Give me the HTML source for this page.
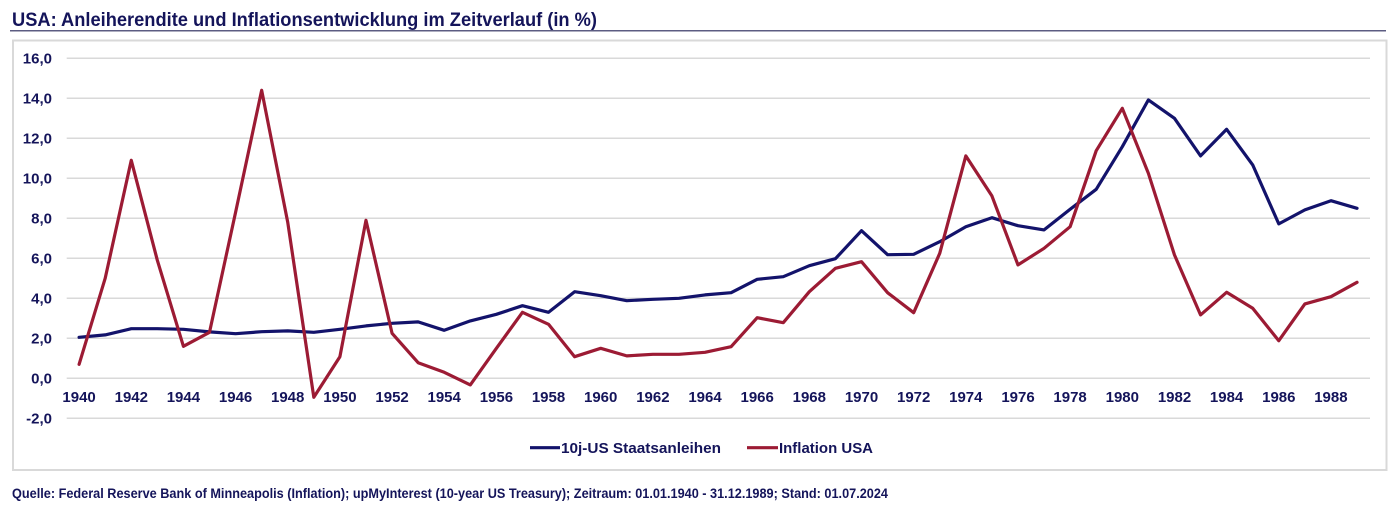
<!DOCTYPE html>
<html><head><meta charset="utf-8"><style>
html,body{margin:0;padding:0;background:#fff;}
svg{display:block;}
text{font-family:"Liberation Sans",Arial,sans-serif;font-weight:bold;fill:#14145a;}
</style></head><body>
<svg width="1400" height="517" viewBox="0 0 1400 517" xmlns="http://www.w3.org/2000/svg">
<text x="12" y="26" font-size="19" textLength="585" lengthAdjust="spacingAndGlyphs">USA: Anleiherendite und Inflationsentwicklung im Zeitverlauf (in %)</text>
<line x1="10" y1="30.7" x2="1386" y2="30.7" stroke="#5c5c82" stroke-width="1.5"/>
<rect x="13" y="40.5" width="1373.5" height="429.5" fill="none" stroke="#d9d9d9" stroke-width="2"/>
<g stroke="#d9d9d9" stroke-width="1.5">
<line x1="66.7" x2="1370" y1="58.3" y2="58.3"/>
<line x1="66.7" x2="1370" y1="98.3" y2="98.3"/>
<line x1="66.7" x2="1370" y1="138.3" y2="138.3"/>
<line x1="66.7" x2="1370" y1="178.3" y2="178.3"/>
<line x1="66.7" x2="1370" y1="218.3" y2="218.3"/>
<line x1="66.7" x2="1370" y1="258.3" y2="258.3"/>
<line x1="66.7" x2="1370" y1="298.3" y2="298.3"/>
<line x1="66.7" x2="1370" y1="338.3" y2="338.3"/>
<line x1="66.7" x2="1370" y1="378.3" y2="378.3"/>
<line x1="66.7" x2="1370" y1="418.3" y2="418.3"/>
</g>
<g font-size="15" text-anchor="end">
<text x="52" y="63.5">16,0</text>
<text x="52" y="103.5">14,0</text>
<text x="52" y="143.5">12,0</text>
<text x="52" y="183.5">10,0</text>
<text x="52" y="223.5">8,0</text>
<text x="52" y="263.5">6,0</text>
<text x="52" y="303.5">4,0</text>
<text x="52" y="343.5">2,0</text>
<text x="52" y="383.5">0,0</text>
<text x="52" y="423.5">-2,0</text>
</g>
<g font-size="15" text-anchor="middle">
<text x="79.1" y="402">1940</text>
<text x="131.3" y="402">1942</text>
<text x="183.4" y="402">1944</text>
<text x="235.6" y="402">1946</text>
<text x="287.7" y="402">1948</text>
<text x="339.9" y="402">1950</text>
<text x="392.1" y="402">1952</text>
<text x="444.2" y="402">1954</text>
<text x="496.4" y="402">1956</text>
<text x="548.5" y="402">1958</text>
<text x="600.7" y="402">1960</text>
<text x="652.9" y="402">1962</text>
<text x="705.0" y="402">1964</text>
<text x="757.2" y="402">1966</text>
<text x="809.3" y="402">1968</text>
<text x="861.5" y="402">1970</text>
<text x="913.7" y="402">1972</text>
<text x="965.8" y="402">1974</text>
<text x="1018.0" y="402">1976</text>
<text x="1070.1" y="402">1978</text>
<text x="1122.3" y="402">1980</text>
<text x="1174.5" y="402">1982</text>
<text x="1226.6" y="402">1984</text>
<text x="1278.8" y="402">1986</text>
<text x="1330.9" y="402">1988</text>
</g>
<g transform="translate(79.1,378.3) scale(26.08,-20)" fill="none" stroke-linejoin="round" stroke-linecap="round">
<polyline vector-effect="non-scaling-stroke" stroke="#13136b" stroke-width="3.2" points="0,2.05 1,2.17 2,2.48 3,2.48 4,2.45 5,2.32 6,2.23 7,2.33 8,2.37 9,2.3 10,2.45 11,2.62 12,2.75 13,2.82 14,2.4 15,2.87 16,3.2 17,3.63 18,3.3 19,4.33 20,4.13 21,3.88 22,3.95 23,4.0 24,4.17 25,4.28 26,4.95 27,5.08 28,5.63 29,5.98 30,7.38 31,6.18 32,6.2 33,6.83 34,7.58 35,8.03 36,7.63 37,7.42 38,8.45 39,9.45 40,11.58 41,13.92 42,13.0 43,11.12 44,12.45 45,10.67 46,7.72 47,8.42 48,8.88 49,8.5"/>
<polyline vector-effect="non-scaling-stroke" stroke="#9c1b34" stroke-width="3.2" points="0,0.7 1,5.0 2,10.9 3,5.9 4,1.6 5,2.3 6,8.3 7,14.4 8,7.8 9,-0.95 10,1.08 11,7.9 12,2.25 13,0.78 14,0.3 15,-0.33 16,1.5 17,3.3 18,2.7 19,1.08 20,1.5 21,1.12 22,1.2 23,1.2 24,1.3 25,1.58 26,3.03 27,2.78 28,4.33 29,5.5 30,5.83 31,4.28 32,3.28 33,6.25 34,11.12 35,9.12 36,5.67 37,6.5 38,7.58 39,11.38 40,13.5 41,10.25 42,6.17 43,3.17 44,4.3 45,3.5 46,1.88 47,3.72 48,4.08 49,4.8"/>
</g>
<line x1="530" y1="447.7" x2="560" y2="447.7" stroke="#13136b" stroke-width="3.2"/>
<text x="561" y="453" font-size="15" textLength="160" lengthAdjust="spacingAndGlyphs">10j-US Staatsanleihen</text>
<line x1="747" y1="447.7" x2="778" y2="447.7" stroke="#9c1b34" stroke-width="3.2"/>
<text x="779" y="453" font-size="15" textLength="94" lengthAdjust="spacingAndGlyphs">Inflation USA</text>
<text x="12" y="498" font-size="13.5" textLength="876" lengthAdjust="spacingAndGlyphs">Quelle: Federal Reserve Bank of Minneapolis (Inflation); upMyInterest (10-year US Treasury); Zeitraum: 01.01.1940 - 31.12.1989; Stand: 01.07.2024</text>
</svg>
</body></html>
